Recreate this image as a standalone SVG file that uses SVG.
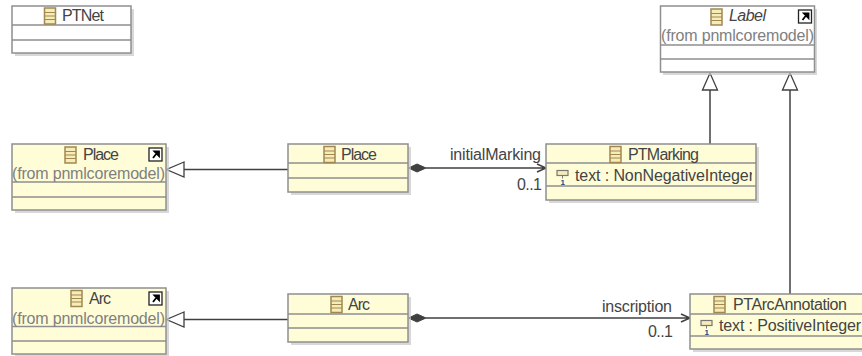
<svg xmlns="http://www.w3.org/2000/svg" width="862" height="356" viewBox="0 0 862 356">
<style>
.b{fill:#fffdd8;stroke:#8f8f8f;stroke-width:1.5}
.w{fill:#fff;stroke:#8f8f8f;stroke-width:1.5}
.s{fill:#c8c8c8;opacity:.7}
.d{stroke:#8f8f8f;stroke-width:1.5;fill:none}
text{font-family:"Liberation Sans","DejaVu Sans",sans-serif;font-size:16px;fill:#444}
.g{fill:#808080}
.c{stroke:#404040;stroke-width:1.500;fill:none}
.t{stroke:#404040;stroke-width:1.300;fill:#fff}
.m{fill:#404040;stroke:#404040}
</style>
<defs>
<g id="ci"><rect x="0" y="0" width="11" height="16" fill="#f5ecb8" stroke="#a08850" stroke-width="1.500"/><path d="M0 4.500H11M0 8H11M0 11.500H11" stroke="#a08850" stroke-width="1"/></g>
<g id="sc"><rect x="0" y="0" width="13" height="13" fill="#fff" stroke="#222" stroke-width="1.300"/><path d="M4 10L7.500 5.500M5.500 3.500H10V8Z" stroke="#000" stroke-width="1.800" fill="#000"/></g>
<g id="ai"><rect x="0" y="0" width="11" height="5" fill="#f5ecb8" stroke="#777" stroke-width="1.200"/><path d="M5.500 5V8" stroke="#777"/><text x="3.500" y="14" style="font-size:8px;font-weight:bold;fill:#204a87">1</text></g>
<clipPath id="m1"><rect x="546" y="144" width="206" height="56"/></clipPath>
</defs>
<g id="connectors">
<path class="c" d="M288 169.500H184"/><path class="t" d="M184 162L166.500 169.500L184 177Z"/>
<path class="c" d="M288 319.500H184"/><path class="t" d="M184 312L166.500 319.500L184 327Z"/>
<path class="c" d="M426 168H546M537 164L546 168L537 172"/><path class="m" d="M408.500 168L417 164L426 168L417 172Z"/>
<path class="c" d="M426 318H690M681 314L690 318L681 322"/><path class="m" d="M408.500 318L417 314L426 318L417 322Z"/>
<path class="c" d="M710 144V90"/><path class="t" d="M702.500 90L710 73L717.500 90Z"/>
<path class="c" d="M790 294V90"/><path class="t" d="M782.500 90L790 73L797.500 90Z"/>
<text x="450" y="160" textLength="91">initialMarking</text>
<text x="517" y="190" textLength="25">0..1</text>
<text x="602" y="312" textLength="70">inscription</text>
<text x="648" y="337" textLength="25">0..1</text>
</g>
<g id="PTNet"><rect class="s" x="15" y="9" width="119" height="47"/><rect class="w" x="12" y="6" width="119" height="47"/><path class="d" d="M12 25H131M12 40H131"/><use href="#ci" x="44.500" y="8"/><text x="62" y="21" textLength="42">PTNet</text></g>
<g id="Label"><rect class="s" x="663" y="9" width="154" height="66"/><rect class="w" x="660.500" y="6" width="154" height="66"/><path class="d" d="M660 45H815M660 59H815"/><use href="#ci" x="711" y="9"/><text x="729" y="21" font-style="italic" textLength="37">Label</text><use href="#sc" x="798.500" y="10"/><text class="g" x="661" y="41" textLength="153">(from pnmlcoremodel)</text></g>
<g id="PlaceRef"><rect class="s" x="15" y="147" width="154" height="66"/><rect class="b" x="12" y="144" width="154" height="66"/><path class="d" d="M12 182H166M12 197H166"/><use href="#ci" x="65" y="147"/><text x="83" y="160" textLength="36">Place</text><use href="#sc" x="149" y="148"/><text class="g" x="12" y="179" textLength="153">(from pnmlcoremodel)</text></g>
<g id="Place"><rect class="s" x="291" y="147" width="120" height="48"/><rect class="b" x="288" y="144" width="120" height="48"/><path class="d" d="M288 163H408M288 178H408"/><use href="#ci" x="324" y="146.500"/><text x="341" y="160" textLength="36">Place</text></g>
<g id="PTMarking"><rect class="s" x="549" y="147" width="210" height="56"/><rect class="b" x="546" y="144" width="210" height="56"/><path class="d" d="M546 163H756M546 186H756"/><use href="#ci" x="610" y="146.500"/><text x="628" y="160" textLength="71">PTMarking</text><use href="#ai" x="557" y="170.500"/><text x="575" y="181" clip-path="url(#m1)" textLength="179">text : NonNegativeInteger</text></g>
<g id="ArcRef"><rect class="s" x="15" y="291" width="154" height="66"/><rect class="b" x="12" y="288" width="154" height="66"/><path class="d" d="M12 326.500H166M12 341H166"/><use href="#ci" x="71" y="290.500"/><text x="89" y="304" textLength="22">Arc</text><use href="#sc" x="149" y="292"/><text class="g" x="12" y="324" textLength="153">(from pnmlcoremodel)</text></g>
<g id="Arc"><rect class="s" x="291" y="297" width="120" height="48"/><rect class="b" x="288" y="294" width="120" height="48"/><path class="d" d="M288 314H408M288 328H408"/><use href="#ci" x="331" y="296.500"/><text x="348" y="310" textLength="22">Arc</text></g>
<g id="PTArcAnnotation"><rect class="s" x="693" y="297" width="180" height="55"/><rect class="b" x="690" y="294" width="180" height="55"/><path class="d" d="M690 314H862M690 336H862"/><use href="#ci" x="714" y="296.500"/><text x="733" y="310" textLength="114">PTArcAnnotation</text><use href="#ai" x="701" y="320.500"/><text x="719" y="331" textLength="142">text : PositiveInteger</text></g>
</svg>
